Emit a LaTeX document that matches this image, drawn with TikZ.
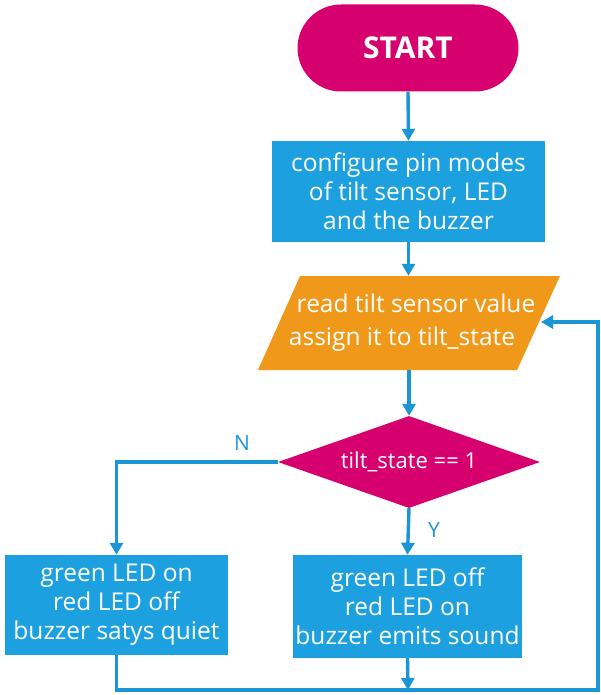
\documentclass[tikz,border=0pt]{standalone}
\usepackage{fontspec}
\setmainfont{Open Sans}
\usetikzlibrary{shapes.geometric,arrows.meta}
\definecolor{cmag}{RGB}{214,0,111}
\definecolor{cblue}{RGB}{28,160,224}
\definecolor{corange}{RGB}{240,152,26}
\definecolor{cline}{RGB}{26,150,214}
\tikzset{
  txt/.style={text=white,font=\fontsize{24.5}{29}\selectfont,align=center,inner sep=0pt},
  procbox/.style={txt,fill=cblue,draw=none,minimum width=#1,minimum height=101pt},
  conn/.style={draw=cline,line width=3.4pt,-{Triangle[length=12pt,width=13pt]}},
  lbl/.style={text=cline,font=\fontsize{21}{24}\selectfont,inner sep=0pt}
}
\begin{document}
\begin{tikzpicture}[x=1pt,y=-1pt]
\useasboundingbox (0,0) rectangle (601,695);
\node[fill=cmag,rounded corners=43.5pt,minimum width=221pt,minimum height=87pt,inner sep=0pt,text=white,font=\fontsize{30}{34}\selectfont\bfseries] (start) at (408,48) {START};
\node[procbox=273pt] (cfg) at (408.5,191.5) {configure pin modes\\of tilt sensor, LED\\and the buzzer};
\fill[corange] (300,276) -- (560,276) -- (517,370) -- (258,370) -- cycle;
\node[minimum width=220pt,minimum height=94pt,inner sep=0pt] (read) at (408,323) {};
\node[txt] (read1) at (416,303) {read tilt sensor value};
\node[txt] (read2) at (402,339) {assign it to tilt\_state};
\node[diamond,fill=cmag,minimum width=262pt,minimum height=92pt,inner sep=0pt,aspect=2.85,text=white,font=\fontsize{22}{24}\selectfont] (dec) at (409,462) {tilt\_state == 1};
\node[procbox=223pt,minimum height=100pt] (left) at (116.5,605) {green LED on\\red LED off\\buzzer satys quiet};
\node[procbox=229pt,minimum height=103pt] (right) at (407.5,606.5) {green LED off\\red LED on\\buzzer emits sound};
\coordinate (bm) at (408,690);
\coordinate (br) at (598,690);
\coordinate (tr) at (598,322);
\coordinate (rin) at (541,322);
\draw[conn] (start.south) -- (cfg.north);
\draw[conn] (cfg.south) -- (read.north -| cfg.south);
\draw[conn] (read.south -| dec.north) -- (dec.north);
\draw[conn] (dec.west) -| (left.north);
\draw[conn] (dec.south) -- (right.north);
\draw[conn] (right.south) -- (bm);
\draw[conn] (left.south) |- (br) -- (tr) -- (rin);
\node[lbl] (n) at (242,443) {N};
\node[lbl] (y) at (434,530) {Y};
\end{tikzpicture}
\end{document}
